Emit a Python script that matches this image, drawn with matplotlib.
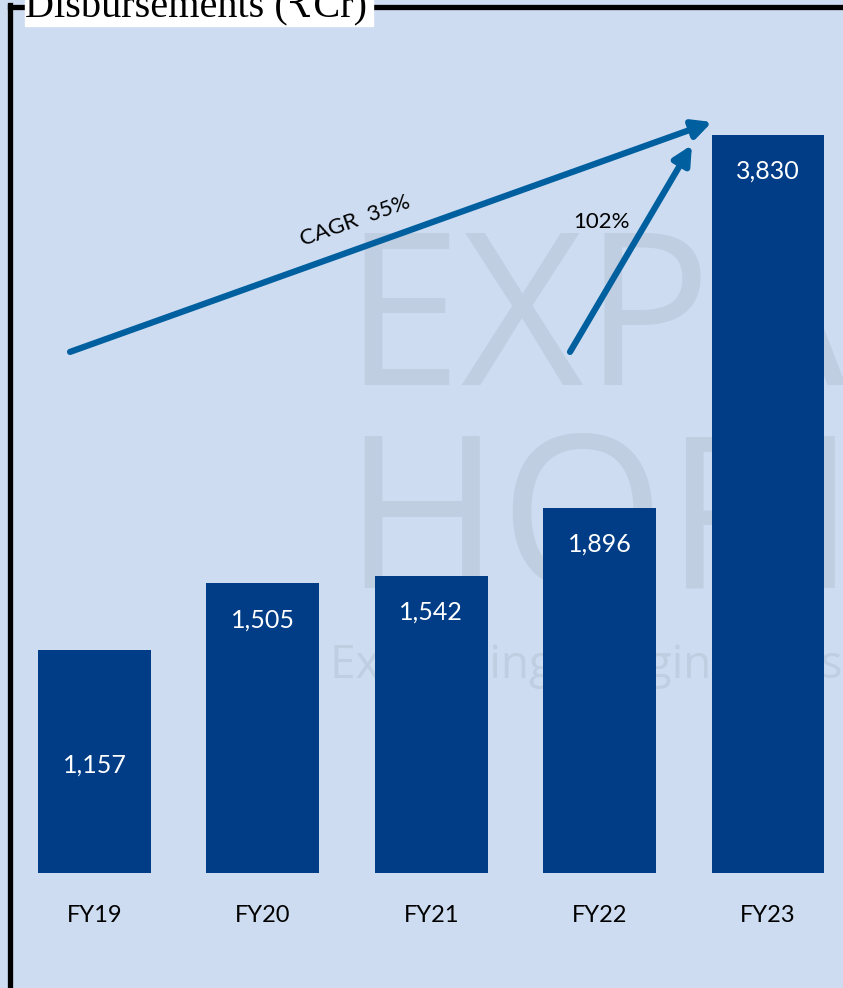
import matplotlib.pyplot as plt
from matplotlib.lines import Line2D
from matplotlib.patches import Rectangle

years = ['FY19', 'FY20', 'FY21', 'FY22', 'FY23']
disbursements = [1157, 1505, 1542, 1896, 3830]
value_labels = ['1,157', '1,505', '1,542', '1,896', '3,830']

bg = '#cddcf1'
bar_col = '#003d86'
arrow_col = '#005f9e'
wm_col = '#c0cee2'

W, H = 843, 988
fig = plt.figure(figsize=(W / 100, H / 100), dpi=100, facecolor=bg)
ax = fig.add_axes([0, (H - 873) / H, 1, 873 / H])
ax.set_facecolor('none')

x = list(range(len(years)))
ax.bar(x, disbursements, width=0.67, color=bar_col, zorder=3)
ax.set_xlim(-0.561, 4.445)
ax.set_ylim(0, 4530)

for s in ax.spines.values():
    s.set_visible(False)
ax.set_yticks([])
ax.set_xticks(x, years)
ax.tick_params(axis='x', length=0, pad=23, labelsize=17)
for t in ax.get_xticklabels():
    t.set_fontfamily('Lato')

# value labels: first one centred, others near the top of the bar
for i, (v, lab) in enumerate(zip(disbursements, value_labels)):
    if i == 0:
        ax.text(i, v / 2 - 20, lab, ha='center', va='center', color='white',
                fontsize=18, family='Lato', zorder=4)
    else:
        ax.text(i, v - 190, lab, ha='center', va='center', color='white',
                fontsize=18, family='Lato', zorder=4)

# watermark (behind the bars)
tf = fig.transFigure
ax.text(343 / W, 1 - 385 / H, 'EXPANDING', fontsize=153, color=wm_col,
        family='Open Sans', va='baseline', transform=tf, zorder=1)
ax.text(343 / W, 1 - 588 / H, 'HORIZONS', fontsize=153, color=wm_col,
        family='Open Sans', va='baseline', transform=tf, zorder=1)
ax.text(330 / W, 1 - 678 / H, 'Expanding Imaginations  Enabling', fontsize=33,
        color=wm_col, family='Open Sans', va='baseline', transform=tf, zorder=1)

# growth arrows
ax.annotate('', xy=(3.667, 3897), xytext=(-0.145, 2704),
            arrowprops=dict(arrowstyle='-|>', color=arrow_col, lw=4.5,
                            mutation_scale=28, shrinkA=0, shrinkB=0), zorder=5)
ax.annotate('', xy=(3.548, 3778), xytext=(2.824, 2704),
            arrowprops=dict(arrowstyle='-|>', color=arrow_col, lw=4.5,
                            mutation_scale=28, shrinkA=0, shrinkB=0), zorder=5)
ax.text(1.55, 3385, 'CAGR  35%', rotation=19.7, ha='center', va='center',
        fontsize=16, family='Lato', rotation_mode='anchor')
ax.text(3.01, 3380, '102%', ha='center', va='center', fontsize=16, family='Lato')

# frame lines and title box
fig.add_artist(Line2D([10 / W, 10 / W], [0, 1 - 5 / H], color='black', lw=3.8))
fig.add_artist(Line2D([10 / W, 1], [1 - 7 / H, 1 - 7 / H], color='black', lw=3.8))
fig.add_artist(Rectangle((25 / W, 1 - 26 / H), 348 / W, 26 / H,
                         transform=fig.transFigure, color='white', zorder=6))
fig.text(25 / W, 1 - 16 / H, 'Disbursements (\u20b9Cr)', fontsize=29,
         family=['Liberation Serif', 'DejaVu Serif'], va='baseline', zorder=7)

fig.savefig('out.png', dpi=100, facecolor=bg)
